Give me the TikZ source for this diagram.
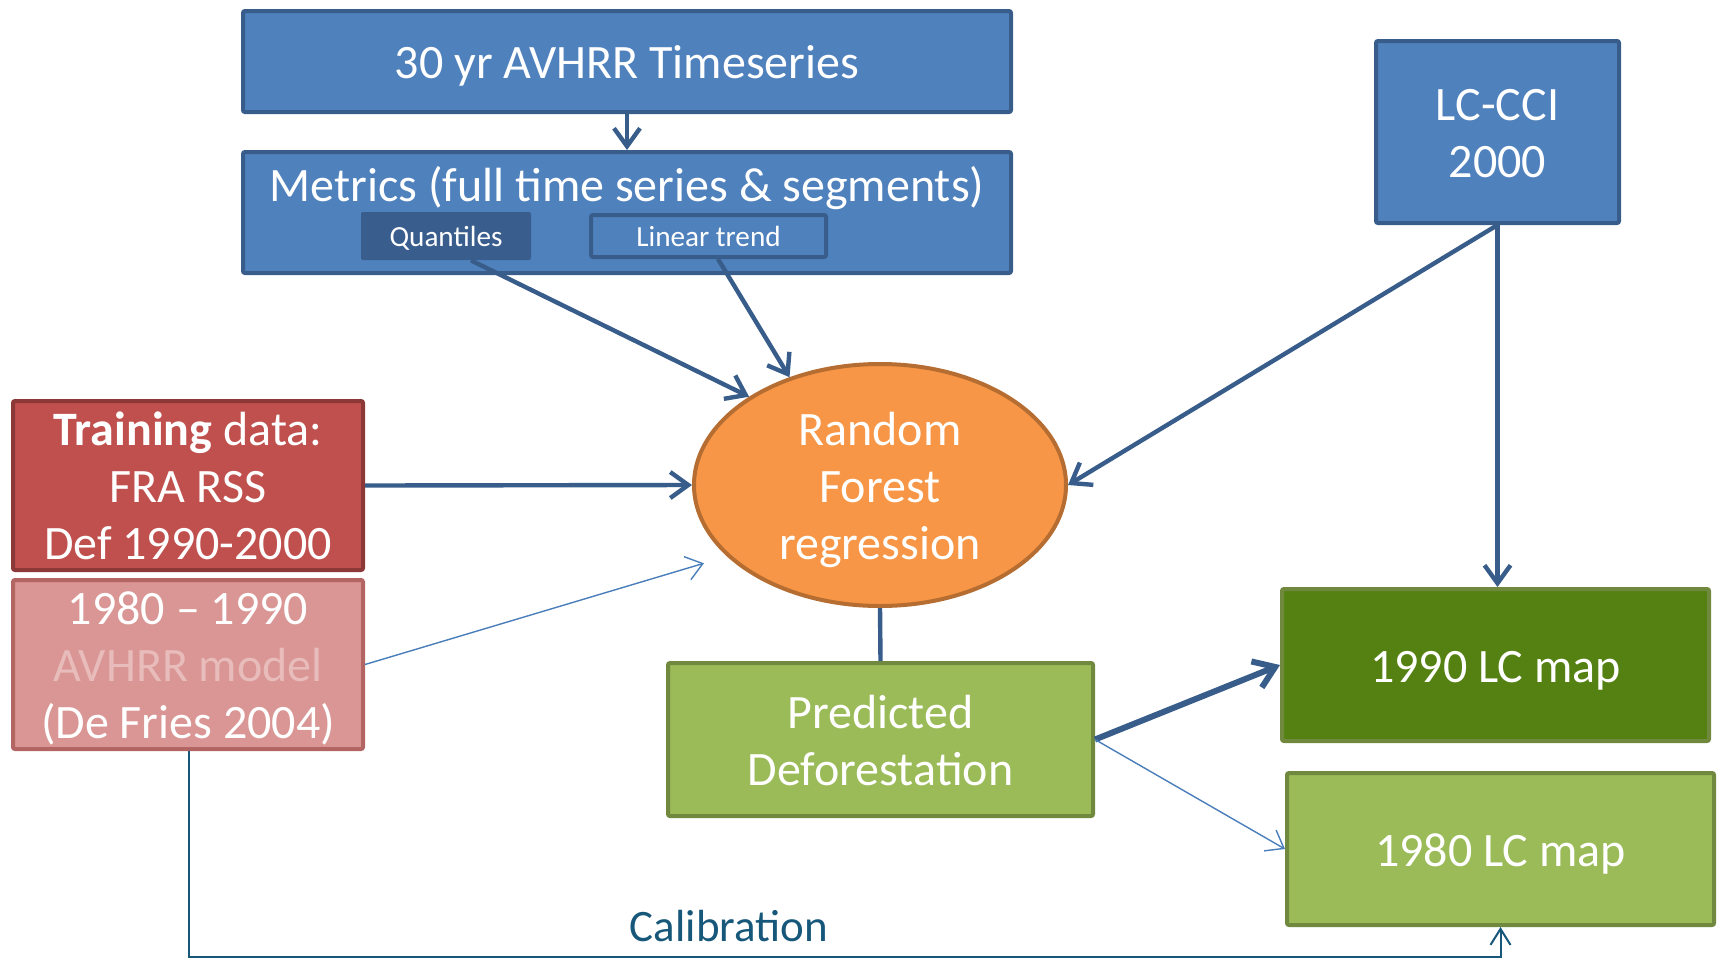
\documentclass[tikz,border=0pt]{standalone}
\usepackage{fontspec}
\setmainfont{Carlito}
\usetikzlibrary{arrows.meta,shapes.geometric,calc}
\definecolor{bfill}{HTML}{4F81BD}
\definecolor{bdraw}{HTML}{385D8A}
\definecolor{qfill}{HTML}{395E8E}
\definecolor{rfill}{HTML}{C0504D}
\definecolor{rdraw}{HTML}{8C3836}
\definecolor{lrfill}{HTML}{D99694}
\definecolor{lrdraw}{HTML}{B36563}
\definecolor{lrtext}{HTML}{E8BCBB}
\definecolor{ofill}{HTML}{F79646}
\definecolor{odraw}{HTML}{B66D31}
\definecolor{gfill}{HTML}{9BBB59}
\definecolor{gdraw}{HTML}{71893F}
\definecolor{dgfill}{HTML}{558113}
\definecolor{thin}{HTML}{4A7EBB}
\definecolor{calib}{HTML}{17587A}
\newcommand{\tstrut}{\rule{0pt}{21.5pt}}
\newcommand{\bstrut}{\rule[-4.5pt]{0pt}{4.5pt}}
\newcommand{\tsmall}{\rule{0pt}{13pt}}
\newcommand{\bsmall}{\rule[-3pt]{0pt}{3pt}}
\tikzset{
  x=0.5pt,y=-0.5pt,
  bigfont/.style={font=\fontsize{24}{28.5}\selectfont},
  boxbase/.style={draw,line width=2pt,rounded corners=1pt,inner sep=0pt,align=center,text=white,bigfont},
  bluebox/.style={boxbase,fill=bfill,draw=bdraw},
  redbox/.style={boxbase,fill=rfill,draw=rdraw},
  lredbox/.style={boxbase,fill=lrfill,draw=lrdraw},
  greenbox/.style={boxbase,fill=gfill,draw=gdraw},
  dgreenbox/.style={boxbase,fill=dgfill,draw=gdraw},
  smallbox/.style={rounded corners=1pt,inner sep=0pt,text=white,font=\fontsize{14.6}{17}\selectfont},
  thickarrow/.style={draw=bdraw,line width=2.2pt,-{Straight Barb[length=9pt,width=13pt,line width=2.2pt]}},
  fatarrow/.style={draw=bdraw,line width=3pt,-{Straight Barb[length=10pt,width=14pt,line width=3pt]}},
  thinarrow/.style={draw=thin,line width=0.7pt,-{Straight Barb[length=8pt,width=12pt,line width=0.7pt]}},
}
\begin{document}
\begin{tikzpicture}
\useasboundingbox (0,0) rectangle (1719,960);
% boxes
\node[bluebox,minimum width=384pt,minimum height=50.5pt] (ts) at (627,61.5) {\tstrut 30 yr AVHRR Timeseries\bstrut};
\node[bluebox,minimum width=384pt,minimum height=60.5pt] (met) at (627,212.5) {};
\node[text=white,bigfont,inner sep=0pt] (mettxt) at (627,188.5) {Metrics (full time series \& segments)};
\node[smallbox,fill=qfill,minimum width=85pt,minimum height=24pt] (q) at (446,236) {\tsmall Quantiles\bsmall};
\node[smallbox,fill=bfill,draw=bdraw,line width=2pt,minimum width=117.5pt,minimum height=21pt] (lt) at (708.5,236) {\tsmall Linear trend\bsmall};
\node[bluebox,minimum width=121.5pt,minimum height=91pt] (cci) at (1497.5,132) {\tstrut LC-CCI\\2000\bstrut};
\node[ellipse,draw=odraw,fill=ofill,line width=2pt,minimum width=186pt,minimum height=121pt,inner sep=0pt,align=center,text=white,bigfont] (rf) at (880,485) {\tstrut Random\\Forest\\regression\bstrut};
\node[redbox,minimum width=175pt,minimum height=84.5pt] (tr) at (188,485.5) {\tstrut\textbf{Training} data:\\FRA RSS\\Def 1990-2000\bstrut};
\node[lredbox,minimum width=175pt,minimum height=84.5pt] (av) at (188,664.5) {\tstrut 1980 -- 1990\\\textcolor{lrtext}{AVHRR model}\\(De Fries 2004)\bstrut};
\node[greenbox,minimum width=212.5pt,minimum height=76.5pt] (pd) at (880.5,739.5) {\tstrut Predicted\\Deforestation\bstrut};
\node[dgreenbox,minimum width=213.5pt,minimum height=76pt] (l90) at (1495.5,665) {\tstrut 1990 LC map\bstrut};
\node[greenbox,minimum width=213.5pt,minimum height=76pt] (l80) at (1500.5,849) {\tstrut 1980 LC map\bstrut};
\node[text=calib,font=\fontsize{22.5}{27}\selectfont,inner sep=0pt] (cal) at (729,926) {Calibration};
% connectors
\draw[thickarrow,line width=1.8pt] (ts.south) -- (met.north);
\draw[thickarrow] ([xshift=12.5pt]q.south) -- (rf.146);
\draw[thickarrow] ([xshift=4.75pt]lt.south) -- (rf.130);
\draw[thickarrow] (cci.south) -- (rf.east);
\draw[thickarrow] (cci.south) -- (cci.south |- l90.north);
\draw[thickarrow] (tr.east) -- (rf.west);
\draw[thinarrow,shorten >=12pt] (av.east) -- (rf.205);
\draw[draw=bdraw,line width=2.2pt] (rf.south) -- (pd.north);
\draw[fatarrow] (pd.east) -- (l90.west);
\draw[thinarrow] (pd.east) -- (l80.west);
\coordinate (c1) at (189,957);
\coordinate (c2) at (1500.5,957);
\draw[draw=calib,line width=1pt,-{Straight Barb[length=8pt,width=10pt,line width=1pt]}] (av.south -| c1) -- (c1) -- (c2) -- (l80.south);
\end{tikzpicture}
\end{document}
